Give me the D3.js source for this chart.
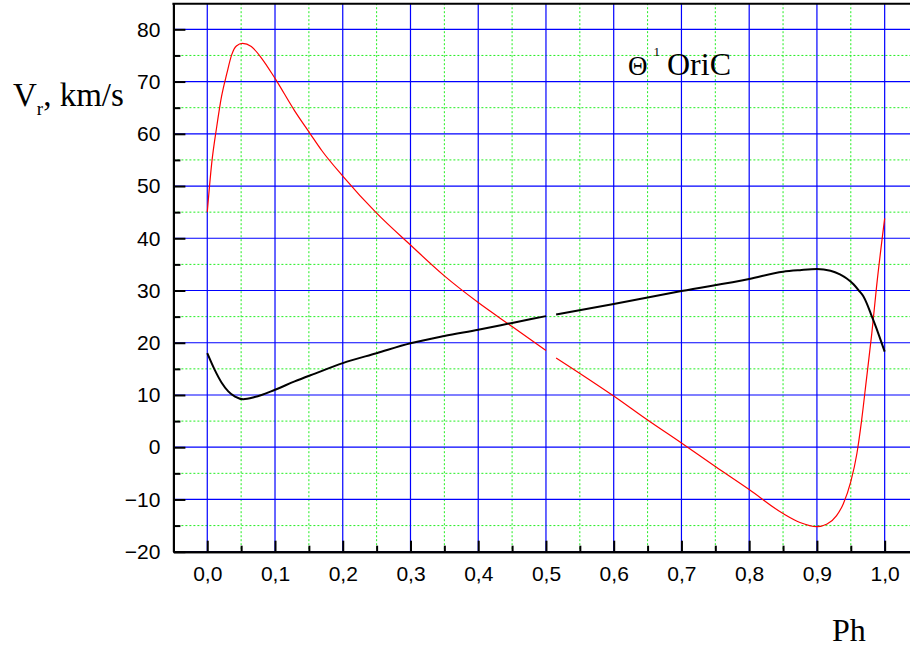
<!DOCTYPE html>
<html>
<head>
<meta charset="utf-8">
<script src="https://cdn.jsdelivr.net/npm/d3@7"></script>
<style>
  body { margin: 0; background: #fff; }
  .lbl { font-family: "Liberation Serif", "Times New Roman", serif; fill: #000; }
</style>
</head>
<body>
<script>
// radial velocity curves (null = gap in the curve)
var redPhase = [0, 0.0065, 0.014, 0.021, 0.029, 0.036, 0.043, 0.052, 0.065, 0.08, 0.1, 0.129, 0.152, 0.169, 0.2, 0.25, 0.3, 0.35, 0.4, 0.45, 0.5,
                0.505,
                0.515, 0.6, 0.65, 0.7, 0.75, 0.8, 0.85, 0.875, 0.9, 0.915, 0.929, 0.939, 0.95, 0.959, 0.966, 0.973, 0.981, 0.988, 1.0];
var redVel   = [45.0, 54.3, 61.4, 67.1, 71.6, 75.1, 76.8, 77.3, 76.7, 74.5, 70.6, 64.4, 60.0, 56.8, 51.9, 44.8, 38.7, 32.8, 27.7, 23.1, 18.5,
                null,
                17.1, 9.8, 5.2, 0.8, -3.7, -8.1, -12.7, -14.4, -15.2, -14.7, -13.1, -10.8, -6.6, -1.2, 5.2, 12.9, 21.8, 30.7, 43.8];

var blackPhase = [0, 0.011, 0.021, 0.031, 0.041, 0.053, 0.07, 0.1, 0.129, 0.159, 0.2, 0.25, 0.3, 0.35, 0.4, 0.45, 0.5,
                  0.505,
                  0.515, 0.6, 0.7, 0.8, 0.85, 0.875, 0.9, 0.92, 0.934, 0.944, 0.954, 0.9625, 0.9685, 0.9734, 0.98, 0.99, 1.0];
var blackVel   = [18.0, 14.8, 12.4, 10.7, 9.7, 9.2, 9.6, 11.0, 12.6, 14.1, 16.1, 18.0, 19.9, 21.3, 22.5, 23.8, 25.1,
                  null,
                  25.4, 27.4, 29.9, 32.2, 33.6, 33.9, 34.1, 33.8, 33.1, 32.3, 31.2, 29.9, 28.9, 27.6, 25.4, 22.0, 18.3];

var xMajor = [0, 0.1, 0.2, 0.3, 0.4, 0.5, 0.6, 0.7, 0.8, 0.9, 1.0];
var xMinor = [0.05, 0.15, 0.25, 0.35, 0.45, 0.55, 0.65, 0.75, 0.85, 0.95];
var yMajor = [-20, -10, 0, 10, 20, 30, 40, 50, 60, 70, 80];
var yMinor = [-15, -5, 5, 15, 25, 35, 45, 55, 65, 75];

var W = 910, H = 650;
var plotLeft = 173.4, plotTop = 3.2, plotBottom = 551.7;

var x = d3.scaleLinear().domain([-0.05, 1.05]).range([plotLeft, plotLeft + 1.1 * 677.4]);
var y = d3.scaleLinear().domain([-20, 85]).range([plotBottom, plotTop]);

var svg = d3.select("body").append("svg")
    .attr("width", W)
    .attr("height", H);

svg.append("rect").attr("width", W).attr("height", H).attr("fill", "#fff");

// minor grid (green dotted)
svg.selectAll(".gvx").data(xMinor).enter().append("line")
    .attr("x1", x).attr("x2", x).attr("y1", plotTop).attr("y2", plotBottom)
    .attr("stroke", "#22ee22").attr("stroke-width", 1).attr("stroke-dasharray", "2,2");
svg.selectAll(".gvy").data(yMinor).enter().append("line")
    .attr("x1", plotLeft).attr("x2", W).attr("y1", y).attr("y2", y)
    .attr("stroke", "#22ee22").attr("stroke-width", 1).attr("stroke-dasharray", "2,2");

// major grid (blue)
svg.selectAll(".bx").data(xMajor).enter().append("line")
    .attr("x1", x).attr("x2", x).attr("y1", plotTop).attr("y2", plotBottom)
    .attr("stroke", "#0000ff").attr("stroke-width", 1.2);
svg.selectAll(".by").data(yMajor).enter().append("line")
    .attr("x1", plotLeft).attr("x2", W).attr("y1", y).attr("y2", y)
    .attr("stroke", "#0000ff").attr("stroke-width", 1.2);

// curves
function pts(ph, v) {
  return ph.map(function(p, i) { return {p: p, v: v[i]}; });
}
var line = d3.line()
    .defined(function(d) { return d.v !== null; })
    .x(function(d) { return x(d.p); })
    .y(function(d) { return y(d.v); })
    .curve(d3.curveMonotoneX);

svg.append("path")
    .attr("d", line(pts(redPhase, redVel)))
    .attr("fill", "none").attr("stroke", "#ff0000").attr("stroke-width", 1.2);

svg.append("path")
    .attr("d", line(pts(blackPhase, blackVel)))
    .attr("fill", "none").attr("stroke", "#000").attr("stroke-width", 2);

// axes
var fmtX = function(d) { return d3.format(".1f")(d).replace(".", ","); };

function styleAxis(g) {
  g.selectAll("path, line").attr("stroke", "#000").attr("stroke-width", 2);
  g.selectAll("text")
      .attr("font-family", "Liberation Sans, Arial, sans-serif")
      .attr("font-size", 21)
      .attr("fill", "#000");
}

svg.append("g")
    .attr("transform", "translate(" + plotLeft + ",0)")
    .call(d3.axisLeft(y).tickValues(yMinor).tickSizeInner(-7).tickSizeOuter(0).tickFormat(""))
    .call(styleAxis);
svg.append("g")
    .attr("transform", "translate(" + plotLeft + ",0)")
    .call(d3.axisLeft(y).tickValues(yMajor).tickSizeInner(-12).tickSizeOuter(0).tickPadding(13))
    .call(styleAxis);

svg.append("g")
    .attr("transform", "translate(0," + plotBottom + ")")
    .call(d3.axisBottom(x).tickValues(xMinor).tickSizeInner(-6).tickSizeOuter(0).tickFormat(""))
    .call(styleAxis);
svg.append("g")
    .attr("transform", "translate(0," + plotBottom + ")")
    .call(d3.axisBottom(x).tickValues(xMajor).tickSizeInner(-11).tickSizeOuter(0).tickPadding(14).tickFormat(fmtX))
    .call(styleAxis);

// top frame line
svg.append("line")
    .attr("x1", plotLeft - 1).attr("x2", W).attr("y1", plotTop + 0.5).attr("y2", plotTop + 0.5)
    .attr("stroke", "#000").attr("stroke-width", 2);

// labels
var yl = svg.append("text").attr("class", "lbl")
    .attr("x", 13).attr("y", 106).style("font-size", "33px");
yl.append("tspan").text("V");
yl.append("tspan").attr("dy", 9).style("font-size", "19px").text("r");
yl.append("tspan").attr("dy", -9).text(", km/s");

svg.append("text").attr("class", "lbl")
    .attr("x", 832).attr("y", 641).style("font-size", "32px")
    .text("Ph");

var tl = svg.append("text").attr("class", "lbl")
    .attr("x", 628).attr("y", 75).style("font-size", "32px");
tl.append("tspan").style("font-size", "27px").text("\u0398");
tl.append("tspan").attr("dx", 6).attr("dy", -19).style("font-size", "13px").text("1");
tl.append("tspan").attr("dx", 7).attr("dy", 19).text("OriC");
</script>
</body>
</html>
